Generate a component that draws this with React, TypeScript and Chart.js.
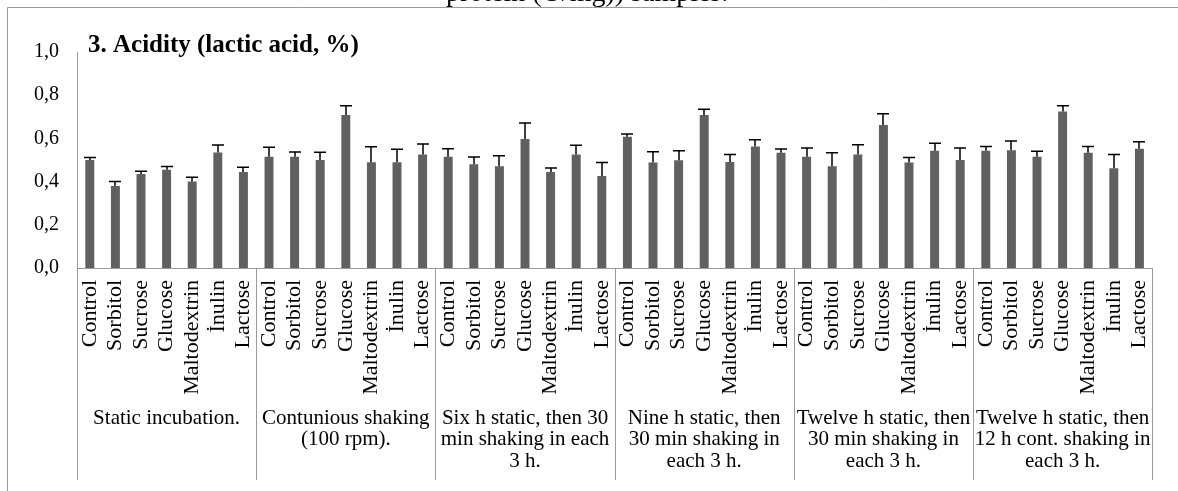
import React, { useEffect, useRef } from "react";
import { Chart, registerables } from "chart.js";

Chart.register(...registerables);

const categories = ["Control", "Sorbitol", "Sucrose", "Glucose", "Maltodextrin", "İnulin", "Lactose"];

const groupLabels: string[][] = [
  ["Static incubation."],
  ["Contunious shaking", "(100 rpm)."],
  ["Six h static, then 30", "min shaking in each", "3 h."],
  ["Nine h static, then", "30 min shaking in", "each 3 h."],
  ["Twelve h static, then", "30 min shaking in", "each 3 h."],
  ["Twelve h static, then", "12 h cont. shaking in", "each 3 h."],
];

const staticIncubation = [0.5, 0.38, 0.435, 0.455, 0.4, 0.535, 0.445];
const staticErr = [0.011, 0.021, 0.013, 0.015, 0.02, 0.034, 0.022];
const continuous = [0.515, 0.515, 0.5, 0.708, 0.49, 0.49, 0.526];
const continuousErr = [0.044, 0.022, 0.036, 0.043, 0.071, 0.06, 0.048];
const sixH = [0.515, 0.48, 0.471, 0.597, 0.444, 0.525, 0.426];
const sixHErr = [0.037, 0.034, 0.049, 0.074, 0.019, 0.043, 0.062];
const nineH = [0.608, 0.489, 0.499, 0.708, 0.491, 0.562, 0.534];
const nineHErr = [0.012, 0.049, 0.044, 0.027, 0.034, 0.032, 0.017];
const twelveH = [0.515, 0.471, 0.525, 0.662, 0.489, 0.543, 0.5];
const twelveHErr = [0.041, 0.063, 0.046, 0.052, 0.022, 0.034, 0.056];
const twelveHCont = [0.543, 0.545, 0.515, 0.724, 0.534, 0.462, 0.552];
const twelveHContErr = [0.019, 0.043, 0.025, 0.027, 0.029, 0.063, 0.033];

const yTickLabels = ["0,0", "0,2", "0,4", "0,6", "0,8", "1,0"];

const chartTitle = "3. Acidity (lactic acid, %)";
const pageHeading = "protein (U/mg)) samples.";

const FONT = "'Liberation Serif', 'Times New Roman', serif";
const AXIS_GRAY = "#9b9b9b";

export default function App() {
  const ref = useRef<HTMLCanvasElement | null>(null);

  useEffect(() => {
    if (!ref.current) return;
    const groupValues = [staticIncubation, continuous, sixH, nineH, twelveH, twelveHCont];
    const groupErrors = [staticErr, continuousErr, sixHErr, nineHErr, twelveHErr, twelveHContErr];
    const labels = groupValues.flatMap(() => categories);
    const values = groupValues.flat();
    const errors = groupErrors.flat();
    const nPer = categories.length;

    const decorPlugin = {
      id: "decor",
      beforeDraw(chart: any) {
        const ctx = chart.ctx;
        ctx.save();
        ctx.fillStyle = "#ffffff";
        ctx.fillRect(0, 0, chart.width, chart.height);
        ctx.strokeStyle = AXIS_GRAY;
        ctx.lineWidth = 1;
        ctx.beginPath();
        ctx.moveTo(7.5, chart.height);
        ctx.lineTo(7.5, 7.5);
        ctx.lineTo(chart.width, 7.5);
        ctx.stroke();
        ctx.fillStyle = "#000";
        ctx.font = `28px ${FONT}`;
        ctx.textAlign = "left";
        ctx.textBaseline = "alphabetic";
        ctx.fillText(pageHeading, 446, 0.5);
        ctx.font = `bold 25px ${FONT}`;
        ctx.fillText(chartTitle, 88, 52);
        ctx.restore();
      },
      afterDatasetsDraw(chart: any) {
        const ctx = chart.ctx;
        const y = chart.scales.y;
        const meta = chart.getDatasetMeta(0);
        ctx.save();
        ctx.strokeStyle = "#000";
        ctx.lineWidth = 1.5;
        meta.data.forEach((bar: any, i: number) => {
          const top = y.getPixelForValue(values[i] + errors[i]);
          const x = Math.round(bar.x);
          ctx.beginPath();
          ctx.moveTo(x, bar.y);
          ctx.lineTo(x, top);
          ctx.moveTo(x - 6, top);
          ctx.lineTo(x + 6, top);
          ctx.stroke();
        });
        ctx.restore();
      },
      afterDraw(chart: any) {
        const ctx = chart.ctx;
        const x = chart.scales.x;
        const area = chart.chartArea;
        ctx.save();
        ctx.strokeStyle = AXIS_GRAY;
        ctx.lineWidth = 1;
        for (let g = 0; g <= groupLabels.length; g++) {
          const px = Math.round(x.getPixelForValue(g * nPer - 0.5)) + 0.5;
          ctx.beginPath();
          ctx.moveTo(px, area.bottom);
          ctx.lineTo(px, 480);
          ctx.stroke();
        }
        ctx.fillStyle = "#000";
        ctx.font = `21px ${FONT}`;
        ctx.textAlign = "center";
        ctx.textBaseline = "middle";
        groupLabels.forEach((lines, g) => {
          const cx = (x.getPixelForValue(g * nPer) + x.getPixelForValue(g * nPer + nPer - 1)) / 2;
          lines.forEach((line, li) => {
            ctx.fillText(line, cx, 418 + li * 21.5);
          });
        });
        ctx.restore();
      },
    };

    const chart = new Chart(ref.current, {
      type: "bar",
      data: {
        labels,
        datasets: [
          {
            data: values,
            backgroundColor: "#606060",
            borderWidth: 0,
            barPercentage: 0.35,
            categoryPercentage: 1,
          },
        ],
      },
      options: {
        animation: false,
        responsive: false,
        maintainAspectRatio: false,
        layout: { padding: { top: 52, right: 15, left: 0, bottom: 0 } },
        plugins: {
          legend: { display: false },
          tooltip: { enabled: false },
          title: { display: false },
        },
        scales: {
          x: {
            type: "category",
            grid: { display: false, drawTicks: false },
            border: { display: true, color: AXIS_GRAY, width: 1 },
            ticks: {
              autoSkip: false,
              minRotation: 90,
              maxRotation: 90,
              padding: 12,
              color: "#000",
              font: { family: FONT, size: 22 },
            },
            afterFit(scale: any) {
              scale.height = 223;
            },
          },
          y: {
            min: 0,
            max: 1,
            grid: { display: false, drawTicks: false },
            border: { display: true, color: AXIS_GRAY, width: 1 },
            ticks: {
              stepSize: 0.2,
              padding: 18,
              color: "#000",
              font: { family: FONT, size: 20 },
              callback: (_v: any, i: number) => yTickLabels[i],
            },
            afterFit(scale: any) {
              scale.width = 77;
            },
          },
        },
      },
      plugins: [decorPlugin],
    });
    return () => chart.destroy();
  }, []);

  return (
    <div style={{ position: "absolute", left: 0, top: 0, width: 1178, height: 491 }}>
      <canvas ref={ref} width={1178} height={491} style={{ display: "block" }} />
    </div>
  );
}
